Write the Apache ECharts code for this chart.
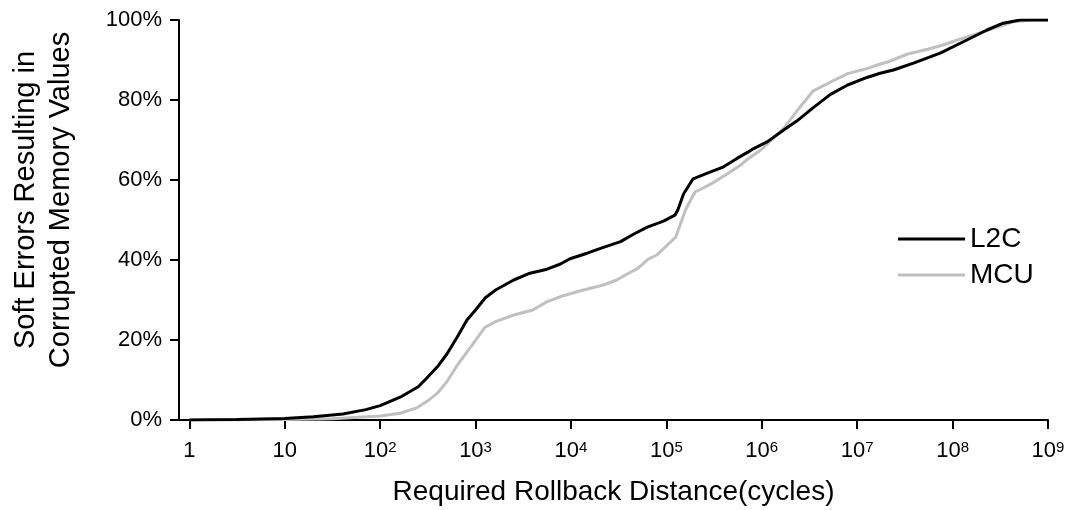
<!DOCTYPE html>
<html>
<head>
<meta charset="utf-8">
<script src="https://cdn.jsdelivr.net/npm/echarts@6/dist/echarts.min.js"></script>
<style>
  html, body { margin: 0; padding: 0; background: #fff; }
  #chart { width: 1068px; height: 510px; }
</style>
</head>
<body>
<div id="chart"></div>
<script>
// x values are log10(cycles)
const seriesNames = ['L2C', 'MCU'];
const l2cLogCycles = [0, 0.5, 1.0, 1.3, 1.61, 1.85, 2.0, 2.21, 2.40, 2.49, 2.60, 2.70, 2.81, 2.91, 3.0, 3.10, 3.21, 3.40, 3.57, 3.75, 3.89, 3.99, 4.17, 4.31, 4.52, 4.66, 4.80, 4.97, 5.09, 5.12, 5.18, 5.28, 5.43, 5.60, 5.74, 5.85, 5.91, 6.06, 6.23, 6.37, 6.54, 6.72, 6.90, 7.11, 7.24, 7.38, 7.59, 7.87, 8.15, 8.36, 8.53, 8.71, 9.0];
const l2cPercent   = [0, 0.1, 0.4, 0.8, 1.5, 2.6, 3.6, 5.7, 8.3, 10.5, 13.3, 16.5, 20.8, 25, 27.5, 30.5, 32.5, 35, 36.7, 37.7, 39, 40.3, 41.7, 42.9, 44.6, 46.5, 48.2, 49.7, 51.2, 52.5, 56.5, 60.3, 61.7, 63.3, 65.4, 66.9, 67.8, 69.6, 72.5, 74.8, 78.1, 81.4, 83.75, 85.7, 86.7, 87.5, 89.2, 91.7, 95, 97.5, 99.2, 100, 100];
const mcuLogCycles = [0, 1.0, 1.5, 2.0, 2.21, 2.39, 2.50, 2.60, 2.70, 2.81, 2.95, 3.10, 3.21, 3.40, 3.60, 3.75, 3.91, 4.10, 4.34, 4.48, 4.59, 4.70, 4.81, 4.90, 5.10, 5.20, 5.30, 5.46, 5.62, 5.78, 5.85, 5.99, 6.06, 6.23, 6.37, 6.54, 6.72, 6.90, 7.11, 7.24, 7.32, 7.53, 7.74, 7.90, 8.05, 8.22, 8.43, 8.64, 8.85, 9.0];
const mcuPercent   = [0, 0.1, 0.3, 1.0, 1.7, 3.1, 4.8, 6.7, 9.6, 13.75, 18.3, 23.2, 24.6, 26.25, 27.5, 29.6, 31, 32.3, 33.75, 35, 36.5, 37.9, 40.2, 41.25, 45.8, 52.5, 57, 58.9, 61.25, 63.75, 65.2, 67.5, 69.0, 72.9, 77.3, 82.3, 84.5, 86.6, 87.9, 89, 89.5, 91.5, 92.7, 93.75, 95, 96.25, 97.9, 99.6, 100, 100];
const xTickExponents = [0, 1, 2, 3, 4, 5, 6, 7, 8, 9];
const yTickValues = [0, 20, 40, 60, 80, 100];

const FONT = "'Liberation Sans', Arial, sans-serif";
const zip = (xs, ys) => xs.map((x, i) => [x, ys[i]]);

const chart = echarts.init(document.getElementById('chart'), null, { renderer: 'canvas' });
chart.setOption({
  animation: false,
  backgroundColor: '#ffffff',
  textStyle: { fontFamily: FONT, color: '#000' },
  grid: { left: 179, right: 20, top: 20, bottom: 90, containLabel: false, outerBoundsMode: 'none' },
  legend: {
    orient: 'vertical',
    left: 893,
    top: 220,
    icon: 'rect',
    itemWidth: 67,
    itemHeight: 3,
    itemGap: 8,
    data: seriesNames,
    textStyle: { fontSize: 28, fontFamily: FONT, color: '#000' }
  },
  xAxis: {
    type: 'value',
    min: -0.108,
    max: 9,
    name: 'Required Rollback Distance(cycles)',
    nameLocation: 'middle',
    nameGap: 58,
    nameTextStyle: { fontSize: 28, fontFamily: FONT, color: '#000' },
    splitLine: { show: false },
    axisLine: { show: true, onZero: false, lineStyle: { color: '#000', width: 2 } },
    axisTick: { show: true, length: 9, lineStyle: { color: '#000', width: 2 }, customValues: xTickExponents },
    axisLabel: {
      customValues: xTickExponents,
      margin: 20,
      fontSize: 22,
      lineHeight: 22,
      fontFamily: FONT,
      color: '#000',
      formatter: function (v) {
        if (v === 0) return '1';
        if (v === 1) return '10';
        return '10{sup|' + v + '}';
      },
      rich: {
        sup: { fontSize: 15, lineHeight: 8, verticalAlign: 'top', fontFamily: FONT, color: '#000' }
      }
    }
  },
  yAxis: {
    type: 'value',
    min: 0,
    max: 100,
    interval: 20,
    name: 'Soft Errors Resulting in\nCorrupted Memory Values',
    nameLocation: 'middle',
    nameRotate: 90,
    nameGap: 101,
    nameTextStyle: { fontSize: 29, lineHeight: 35, fontFamily: FONT, color: '#000', padding: [0, 0, 0, 40] },
    splitLine: { show: false },
    axisLine: { show: true, onZero: false, lineStyle: { color: '#000', width: 2 } },
    axisTick: { show: true, length: 9, lineStyle: { color: '#000', width: 2 } },
    axisLabel: { margin: 17, fontSize: 22, fontFamily: FONT, color: '#000', formatter: '{value}%' }
  },
  series: [
    {
      name: 'MCU',
      type: 'line',
      data: zip(mcuLogCycles, mcuPercent),
      showSymbol: false,
      symbol: 'none',
      color: '#c0c0c0',
      itemStyle: { color: '#c0c0c0' },
      lineStyle: { color: '#c0c0c0', width: 3 },
      z: 2
    },
    {
      name: 'L2C',
      type: 'line',
      data: zip(l2cLogCycles, l2cPercent),
      showSymbol: false,
      symbol: 'none',
      color: '#000000',
      itemStyle: { color: '#000000' },
      lineStyle: { color: '#000000', width: 3 },
      z: 3
    }
  ]
});
</script>
</body>
</html>
